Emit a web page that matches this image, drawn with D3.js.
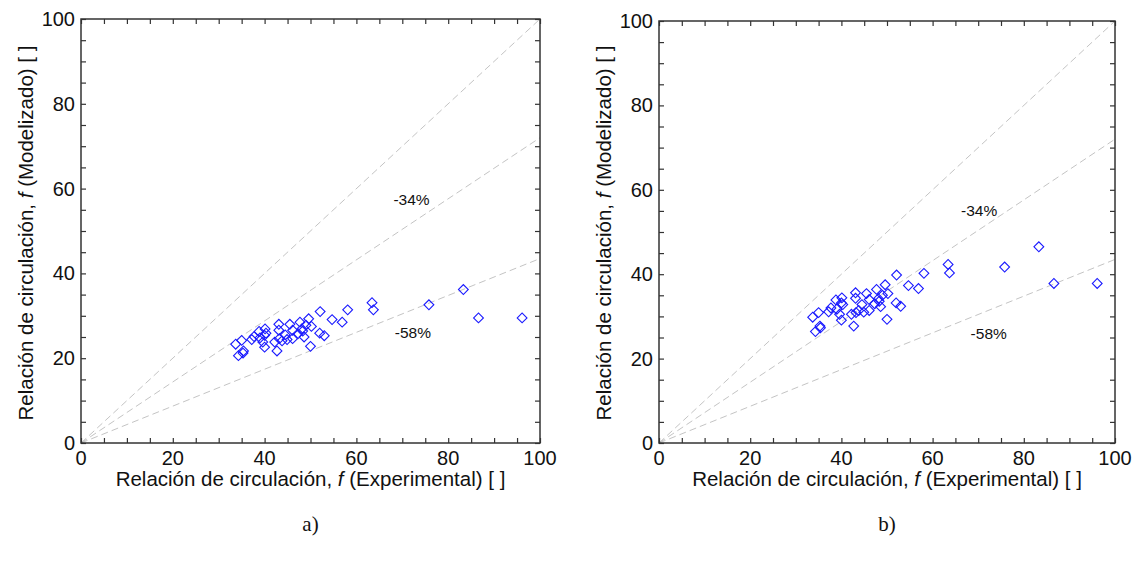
<!DOCTYPE html>
<html>
<head>
<meta charset="utf-8">
<script src="https://cdn.jsdelivr.net/npm/d3@7"></script>
<style>
  html, body { margin: 0; padding: 0; background: #fff; }
  svg { display: block; }
</style>
</head>
<body>
<div id="chart"></div>
<script>
// ---------- data ----------
// experimental circulation ratio, shared by both panels
const fExperimental = [
  33.7, 35.0, 34.3, 35.4, 35.3, 37.2, 37.7, 38.8, 39.0, 39.6,
  40.0, 40.1, 40.3, 40.0, 43.1, 43.1, 42.2, 42.7, 43.2, 43.8,
  44.5, 44.9, 45.5, 46.1, 46.1, 47.3, 47.7, 48.1, 48.3, 48.6,
  49.0, 49.6, 50.2, 50.0, 52.1, 52.0, 53.0, 54.7, 56.9, 58.1,
  63.4, 63.7, 75.8, 83.3, 86.6, 96.1
];
// modelled, panel a)
const fModelA = [
  23.3, 24.2, 20.6, 21.7, 21.2, 24.4, 25.1, 26.3, 24.8, 23.8,
  22.6, 26.9, 25.9, 25.4, 28.0, 26.6, 23.8, 21.7, 24.6, 24.1,
  25.5, 24.4, 28.0, 24.6, 26.6, 25.8, 28.5, 26.9, 26.4, 25.0,
  27.8, 29.3, 27.5, 22.8, 31.0, 25.9, 25.3, 29.1, 28.5, 31.4,
  33.1, 31.4, 32.6, 36.2, 29.5, 29.5
];
// modelled, panel b)
const fModelB = [
  29.8, 30.9, 26.4, 27.3, 27.7, 31.1, 32.0, 33.9, 31.7, 30.5,
  29.1, 34.4, 32.8, 33.2, 35.6, 34.3, 30.5, 27.7, 30.9, 31.4,
  32.8, 31.0, 35.4, 31.4, 34.0, 33.0, 36.4, 34.2, 33.6, 32.3,
  35.0, 37.5, 35.4, 29.3, 39.8, 33.2, 32.4, 37.3, 36.6, 40.2,
  42.3, 40.3, 41.7, 46.5, 37.8, 37.8
];
// reference lines through origin: slope of each
const refSlopes = [1.0, 0.72, 0.435];
const refLabels = ["-34%", "-58%"];
const tickValues = [0, 20, 40, 60, 80, 100];

const width = 1137, height = 562;
const sans = "'Liberation Sans', Arial, sans-serif";
const serif = "'Liberation Serif', 'Times New Roman', serif";

const svg = d3.select("#chart").append("svg")
  .attr("width", width)
  .attr("height", height)
  .attr("viewBox", `0 0 ${width} ${height}`);

function drawPanel(box, modelVals, labelPos, letter) {
  const x = d3.scaleLinear().domain([0, 100]).range([box.left, box.right]);
  const y = d3.scaleLinear().domain([0, 100]).range([box.bottom, box.top]);
  const g = svg.append("g");

  // dashed reference lines
  refSlopes.forEach(s => {
    g.append("line")
      .attr("x1", x(0)).attr("y1", y(0))
      .attr("x2", x(100)).attr("y2", y(100 * s))
      .attr("stroke", "#c4c4c4")
      .attr("stroke-width", 1)
      .attr("stroke-dasharray", "7,4");
  });

  // line labels
  refLabels.forEach((t, i) => {
    g.append("text")
      .attr("x", x(labelPos[i][0]))
      .attr("y", y(labelPos[i][1]))
      .attr("text-anchor", "middle")
      .attr("dominant-baseline", "middle")
      .attr("font-family", sans)
      .attr("font-size", "15.5px")
      .attr("fill", "#111")
      .text(t);
  });

  // points (open diamonds)
  const diamond = d3.symbol().type(d3.symbolSquare).size(48);
  g.append("g").selectAll("path")
    .data(fExperimental.map((v, i) => [v, modelVals[i]]))
    .join("path")
    .attr("d", diamond)
    .attr("transform", d => `translate(${x(d[0])},${y(d[1])}) rotate(45)`)
    .attr("fill", "none")
    .attr("stroke", "#1a1aff")
    .attr("stroke-width", 1.1);

  // axes with inward ticks on every side
  const minor = d3.range(0, 101, 5);
  const tickLen = 5;
  g.append("g").attr("transform", `translate(0,${box.bottom})`)
    .call(d3.axisBottom(x).tickValues(minor).tickSize(-tickLen).tickFormat(""));
  g.append("g").attr("transform", `translate(0,${box.top})`)
    .call(d3.axisTop(x).tickValues(minor).tickSize(-tickLen).tickFormat(""));
  g.append("g").attr("transform", `translate(${box.left},0)`)
    .call(d3.axisLeft(y).tickValues(minor).tickSize(-tickLen).tickFormat(""));
  g.append("g").attr("transform", `translate(${box.right},0)`)
    .call(d3.axisRight(y).tickValues(minor).tickSize(-tickLen).tickFormat(""));
  g.selectAll(".domain").remove();
  g.selectAll(".tick line").attr("stroke", "#333").attr("stroke-width", 1.2);

  g.append("rect")
    .attr("x", box.left).attr("y", box.top)
    .attr("width", box.right - box.left)
    .attr("height", box.bottom - box.top)
    .attr("fill", "none")
    .attr("stroke", "#333")
    .attr("stroke-width", 1.5);

  // tick labels
  tickValues.forEach(v => {
    g.append("text")
      .attr("x", x(v)).attr("y", box.bottom + 22)
      .attr("text-anchor", "middle")
      .attr("font-family", sans).attr("font-size", "20px").attr("fill", "#111")
      .text(v);
    g.append("text")
      .attr("x", box.left - 6).attr("y", y(v) + 7)
      .attr("text-anchor", "end")
      .attr("font-family", sans).attr("font-size", "20px").attr("fill", "#111")
      .text(v);
  });

  // axis titles
  const cx = (box.left + box.right) / 2;
  const xt = g.append("text")
    .attr("x", cx).attr("y", box.bottom + 43)
    .attr("text-anchor", "middle")
    .attr("font-family", sans).attr("font-size", "20.5px").attr("fill", "#111");
  xt.append("tspan").text("Relación de circulación, ");
  xt.append("tspan").attr("font-style", "italic").text("f");
  xt.append("tspan").text(" (Experimental) [ ]");

  const cy = 233;
  const yt = g.append("text")
    .attr("transform", `translate(${box.left - 48},${cy}) rotate(-90)`)
    .attr("text-anchor", "middle")
    .attr("font-family", sans).attr("font-size", "20.5px").attr("fill", "#111");
  yt.append("tspan").text("Relación de circulación, ");
  yt.append("tspan").attr("font-style", "italic").text("f");
  yt.append("tspan").text(" (Modelizado) [ ]");

  g.append("text")
    .attr("x", cx).attr("y", 531)
    .attr("text-anchor", "middle")
    .attr("font-family", serif).attr("font-size", "21px").attr("fill", "#111")
    .text(letter);
}

drawPanel({ left: 81, right: 540, top: 19, bottom: 443 }, fModelA,
  [[72, 57.2], [72.3, 25.8]], "a)");
drawPanel({ left: 659, right: 1115, top: 21, bottom: 443 }, fModelB,
  [[70.2, 54.7], [72.3, 25.5]], "b)");
</script>
</body>
</html>
